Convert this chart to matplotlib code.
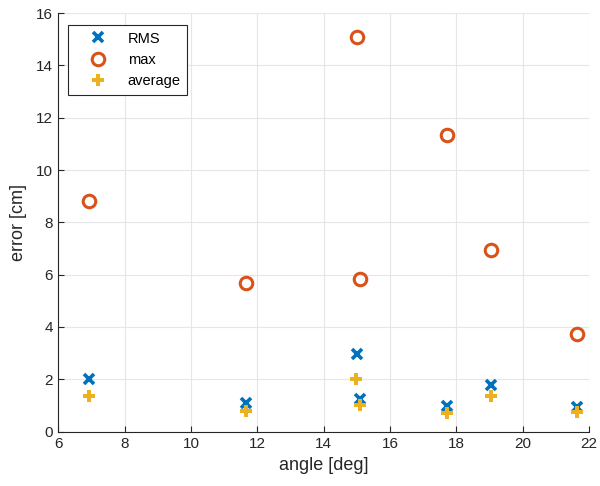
import matplotlib
matplotlib.use("Agg")
import matplotlib.pyplot as plt

plt.rcParams["font.family"] = ["Liberation Sans", "DejaVu Sans"]

# angle [deg] for each test
angle = [6.94, 11.66, 14.99, 15.08, 17.71, 19.03, 21.62]
angle_rms = [6.94, 11.66, 14.99, 15.08, 17.71, 19.03, 21.62]
angle_avg = [6.94, 11.66, 14.96, 15.08, 17.71, 19.03, 21.62]
# error statistics [cm]
rms_err = [2.0, 1.08, 2.97, 1.24, 0.96, 1.78, 0.95]
max_err = [8.82, 5.67, 15.07, 5.82, 11.33, 6.93, 3.72]
avg_err = [1.36, 0.80, 2.0, 1.02, 0.70, 1.36, 0.74]

BLUE = "#0072BD"
ORANGE = "#D95319"
YELLOW = "#EDB120"
TXT = "#262626"

fig = plt.figure(figsize=(6.0, 4.86), dpi=100)
ax = fig.add_axes([0.097, 0.112, 0.885, 0.861])

ax.plot(angle_rms, rms_err, ls="none", marker="x", color=BLUE,
        ms=6.5, mew=2.6, label="RMS")
ax.plot(angle, max_err, ls="none", marker="o", color=ORANGE,
        ms=9, mew=2.2, mfc="none", label="max")
ax.plot(angle_avg, avg_err, ls="none", marker="P", color=YELLOW,
        ms=8.5, mew=0, label="average")

ax.set_xlim(6, 22)
ax.set_ylim(0, 16)
ax.set_xticks(range(6, 23, 2))
ax.set_yticks(range(0, 17, 2))
ax.set_xlabel("angle [deg]", fontsize=13, color=TXT, labelpad=4)
ax.set_ylabel("error [cm]", fontsize=13, color=TXT, labelpad=6)
ax.tick_params(direction="in", length=4, labelsize=11, colors=TXT,
               width=0.8, pad=4)
ax.grid(True, color="#e6e6e6", lw=0.8)
ax.set_axisbelow(True)
for side in ("top", "right"):
    ax.spines[side].set_visible(False)
for side in ("left", "bottom"):
    ax.spines[side].set_color(TXT)
    ax.spines[side].set_linewidth(0.8)

leg = ax.legend(loc="upper left", bbox_to_anchor=(68 / 600, 1 - 25 / 486),
                bbox_transform=fig.transFigure, borderaxespad=0,
                fontsize=10.5, fancybox=False, edgecolor=TXT, framealpha=1,
                borderpad=0.45, handlelength=3.2, handletextpad=0.45,
                labelspacing=0.5)
leg.get_frame().set_linewidth(0.8)

fig.savefig("out.png", dpi=100)
